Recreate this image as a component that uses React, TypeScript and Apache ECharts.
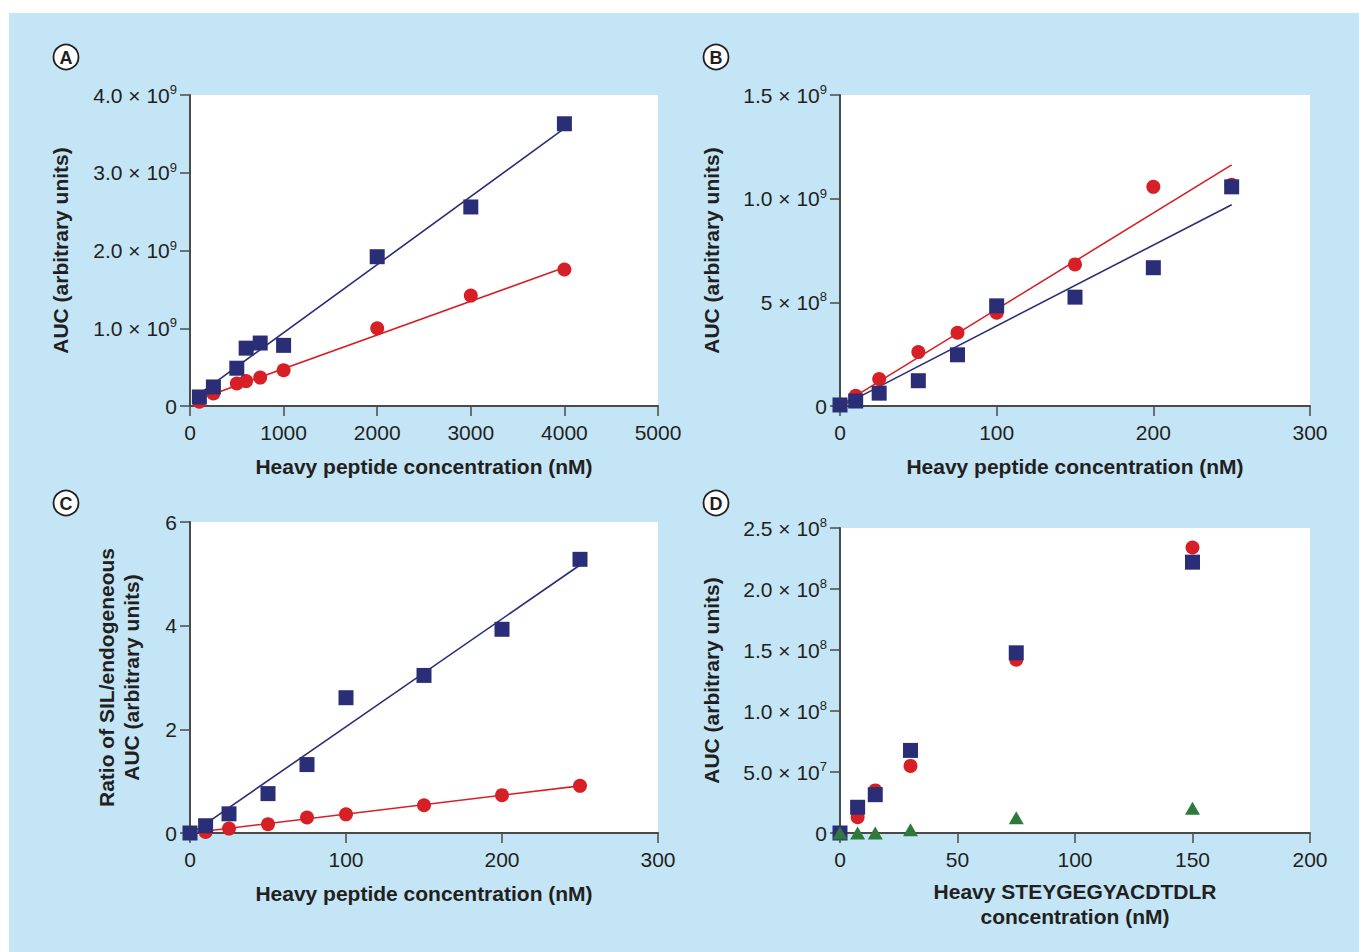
import React, { useEffect, useRef } from "react";
import * as echarts from "echarts";

// ---------- Panel A ----------
const concA = [100, 250, 500, 600, 750, 1000, 2000, 3000, 4000];
const aucABlue = [0.116e9, 0.245e9, 0.486e9, 0.744e9, 0.81e9, 0.78e9, 1.92e9, 2.56e9, 3.63e9];
const aucARed = [0.056e9, 0.16e9, 0.29e9, 0.32e9, 0.365e9, 0.46e9, 1.0e9, 1.42e9, 1.755e9];
const fitABlue = [[100, 0.155e9], [4000, 3.57e9]];
const fitARed = [[100, 0.09e9], [4000, 1.78e9]];
const yLabelsA = [["0", ""], ["1.0 × 10", "9"], ["2.0 × 10", "9"], ["3.0 × 10", "9"], ["4.0 × 10", "9"]];

// ---------- Panel B ----------
const concB = [0, 10, 25, 50, 75, 100, 150, 200, 250];
const aucBBlue = [0.005e9, 0.024e9, 0.062e9, 0.122e9, 0.247e9, 0.483e9, 0.525e9, 0.667e9, 1.057e9];
const aucBRed = [0.005e9, 0.049e9, 0.13e9, 0.26e9, 0.353e9, 0.45e9, 0.683e9, 1.057e9, 1.067e9];
const fitBBlue = [[3, 0.008e9], [250, 0.971e9]];
const fitBRed = [[3, 0.016e9], [250, 1.163e9]];
const yLabelsB = [["0", ""], ["5 × 10", "8"], ["1.0 × 10", "9"], ["1.5 × 10", "9"]];

// ---------- Panel C ----------
const concC = [0, 10, 25, 50, 75, 100, 150, 200, 250];
const ratioCBlue = [0, 0.14, 0.37, 0.76, 1.32, 2.61, 3.04, 3.93, 5.28];
const ratioCRed = [0, 0.02, 0.085, 0.17, 0.3, 0.36, 0.535, 0.73, 0.91];
const fitCBlue = [[0, -0.03], [250, 5.17]];
const fitCRed = [[0, 0.0], [250, 0.91]];
const yLabelsC = [["0", ""], ["2", ""], ["4", ""], ["6", ""]];

// ---------- Panel D ----------
const concD = [0, 7.5, 15, 30, 75, 150];
const aucDBlue = [0, 2.11e7, 3.14e7, 6.77e7, 14.77e7, 22.2e7];
const aucDRed = [0, 1.29e7, 3.49e7, 5.5e7, 14.2e7, 23.4e7];
const aucDGreen = [0, 0, 0, 0.27e7, 1.24e7, 2.03e7];
const yLabelsD = [["0", ""], ["5.0 × 10", "7"], ["1.0 × 10", "8"], ["1.5 × 10", "8"], ["2.0 × 10", "8"], ["2.5 × 10", "8"]];

const panelLetters = ["A", "B", "C", "D"];

const TXT = "#231F20";
const AX = "#4A4A4A";
const BLUE = "#2A2E76";
const RED = "#D71F26";
const GREEN = "#2D7A3A";
const BG = "#C3E5F6";
const FONT = "Liberation Sans, Arial, sans-serif";

const pairs = (xs: number[], ys: number[]) => xs.map((x, i) => [x, ys[i]]);

const richLabels = {
  m: { fontSize: 21, color: TXT, fontFamily: FONT, lineHeight: 24 },
  s: { fontSize: 13, color: TXT, fontFamily: FONT, lineHeight: 13, verticalAlign: "top" },
};

function makeX(idx: number, max: number, interval: number, name: string, nameGap: number) {
  return {
    gridIndex: idx,
    type: "value",
    min: 0,
    max,
    interval,
    name,
    nameLocation: "middle",
    nameGap,
    nameTextStyle: { fontSize: 21, fontWeight: "bold", color: TXT, fontFamily: FONT, lineHeight: 25 },
    axisLine: { show: true, onZero: false, lineStyle: { color: AX, width: 2 } },
    axisTick: { show: true, length: 10, lineStyle: { color: AX, width: 1.5 } },
    splitLine: { show: false },
    axisLabel: {
      color: TXT,
      fontSize: 21,
      fontFamily: FONT,
      margin: 16,
      formatter: (v: number) => String(v),
    },
  };
}

function makeY(idx: number, max: number, interval: number, labels: string[][], name: string, nameGap: number) {
  return {
    gridIndex: idx,
    type: "value",
    min: 0,
    max,
    interval,
    name,
    nameLocation: "middle",
    nameGap,
    nameTextStyle: { fontSize: 21, fontWeight: "bold", color: TXT, fontFamily: FONT, lineHeight: 25 },
    axisLine: { show: true, onZero: false, lineStyle: { color: AX, width: 2 } },
    axisTick: { show: true, length: 10, lineStyle: { color: AX, width: 1.5 } },
    splitLine: { show: false },
    axisLabel: {
      margin: 13,
      formatter: (v: number) => {
        const k = Math.round(v / interval);
        const l = labels[k];
        if (!l) return "";
        return l[1] ? `{m|${l[0]}}{s|${l[1]}}` : `{m|${l[0]}}`;
      },
      rich: richLabels,
    },
  };
}

function fitLine(data: number[][], idx: number, color: string) {
  return {
    type: "line",
    xAxisIndex: idx,
    yAxisIndex: idx,
    data,
    symbol: "none",
    silent: true,
    lineStyle: { color, width: 1.6 },
    z: 1,
  };
}

function scatter(data: number[][], idx: number, color: string, symbol: string, size: any, z: number) {
  return {
    type: "scatter",
    xAxisIndex: idx,
    yAxisIndex: idx,
    data,
    symbol,
    symbolSize: size,
    itemStyle: { color, opacity: 1 },
    silent: true,
    z,
  };
}

function letter(ch: string, cx: number, cy: number) {
  return {
    type: "group",
    children: [
      { type: "circle", shape: { cx, cy, r: 12.5 }, style: { fill: "#fff", stroke: TXT, lineWidth: 1.8 } },
      {
        type: "text",
        x: cx,
        y: cy + 1,
        style: { text: ch, fill: TXT, font: `bold 18px ${FONT}`, align: "center", verticalAlign: "middle" },
      },
    ],
  };
}

export default function App() {
  const ref = useRef<HTMLDivElement>(null);
  useEffect(() => {
    if (!ref.current) return;
    const chart = echarts.init(ref.current, undefined, { renderer: "svg" });
    const option = {
      animation: false,
      backgroundColor: "#ffffff",
      graphic: [
        { type: "rect", z: -10, silent: true, shape: { x: 9, y: 13, width: 1350, height: 939 }, style: { fill: BG } },
        letter(panelLetters[0], 66, 57),
        letter(panelLetters[1], 716, 57),
        letter(panelLetters[2], 66, 503),
        letter(panelLetters[3], 716, 503),
      ],
      grid: [
        { left: 190, top: 95, width: 468, height: 311, show: true, backgroundColor: "#fff", borderWidth: 0 },
        { left: 840, top: 95, width: 470, height: 311, show: true, backgroundColor: "#fff", borderWidth: 0 },
        { left: 190, top: 522, width: 468, height: 311, show: true, backgroundColor: "#fff", borderWidth: 0 },
        { left: 840, top: 528, width: 470, height: 305, show: true, backgroundColor: "#fff", borderWidth: 0 },
      ],
      xAxis: [
        makeX(0, 5000, 1000, "Heavy peptide concentration (nM)", 48),
        makeX(1, 300, 100, "Heavy peptide concentration (nM)", 48),
        makeX(2, 300, 100, "Heavy peptide concentration (nM)", 48),
        makeX(3, 200, 50, "Heavy STEYGEGYACDTDLR\nconcentration (nM)", 46),
      ],
      yAxis: [
        makeY(0, 4e9, 1e9, yLabelsA, "AUC (arbitrary units)", 117),
        makeY(1, 1.5e9, 5e8, yLabelsB, "AUC (arbitrary units)", 116),
        makeY(2, 6, 2, yLabelsC, "Ratio of SIL/endogeneous\nAUC (arbitrary units)", 46),
        makeY(3, 2.5e8, 5e7, yLabelsD, "AUC (arbitrary units)", 116),
      ],
      series: [
        fitLine(fitABlue, 0, BLUE),
        fitLine(fitARed, 0, RED),
        scatter(pairs(concA, aucARed), 0, RED, "circle", 14, 3),
        scatter(pairs(concA, aucABlue), 0, BLUE, "rect", 15, 4),

        fitLine(fitBBlue, 1, BLUE),
        fitLine(fitBRed, 1, RED),
        scatter(pairs(concB, aucBRed), 1, RED, "circle", 14, 3),
        scatter(pairs(concB, aucBBlue), 1, BLUE, "rect", 15, 4),

        fitLine(fitCBlue, 2, BLUE),
        fitLine(fitCRed, 2, RED),
        scatter(pairs(concC, ratioCRed), 2, RED, "circle", 14, 3),
        scatter(pairs(concC, ratioCBlue), 2, BLUE, "rect", 15, 4),

        scatter(pairs(concD, aucDRed), 3, RED, "circle", 14, 3),
        scatter(pairs(concD, aucDBlue), 3, BLUE, "rect", 15, 4),
        scatter(pairs(concD, aucDGreen), 3, GREEN, "triangle", [15, 13], 5),
      ],
    };
    chart.setOption(option as any);
    return () => chart.dispose();
  }, []);
  return (
    <div
      ref={ref}
      style={{ position: "fixed", left: 0, top: 0, width: 1359, height: 952 }}
    />
  );
}
